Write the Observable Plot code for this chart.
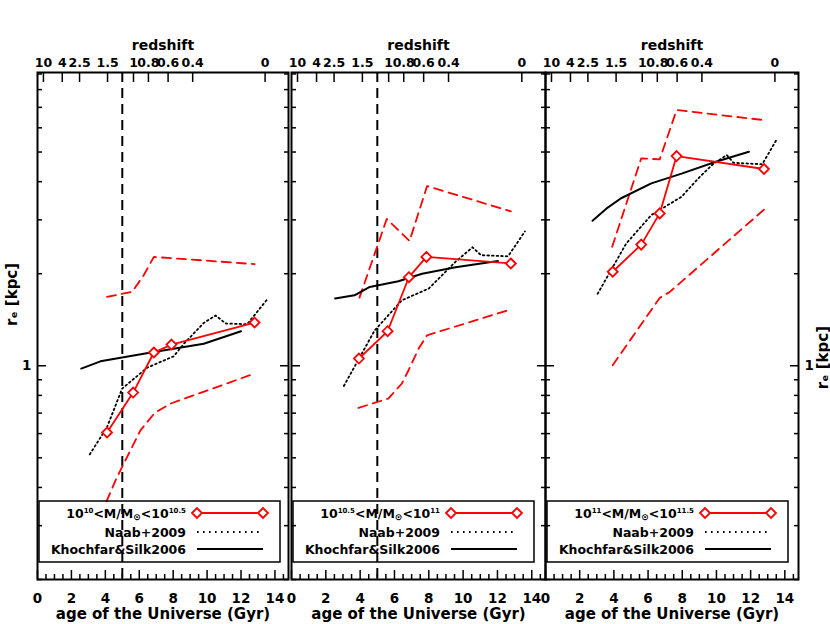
<!DOCTYPE html>
<html><head><meta charset="utf-8">
<script src="https://cdn.jsdelivr.net/npm/d3@7"></script>
<script src="https://cdn.jsdelivr.net/npm/@observablehq/plot@0.6"></script>
<style>
html,body{margin:0;padding:0;background:#fff;}
#fig{position:relative;width:830px;height:624px;overflow:hidden;background:#fff;}
#fig svg{position:absolute;top:0;}
</style></head>
<body><div id="fig"></div>
<script>
// ---------- shared axis data ----------
const zTickLabels = ["10","4","2.5","1.5","1","0.8","0.6","0.4","0"];
const zTickAges   = [0.35, 1.46, 2.48, 4.13, 5.66, 6.54, 7.70, 9.15, 13.42];
const ageMajorTicks = [0, 2, 4, 6, 8, 10, 12, 14];
const ageMinorTicks = [0.5, 1, 1.5, 2.5, 3, 3.5, 4.5, 5, 5.5, 6.5, 7, 7.5, 8.5, 9, 9.5, 10.5, 11, 11.5, 12.5, 13, 13.5, 14.5];
const reMajorTicks = [1];
const reMinorTicks = [0.2, 0.3, 0.4, 0.5, 0.6, 0.7, 0.8, 0.9, 2, 3, 4, 5, 6, 7, 8, 9];
const refLineAge = [5.0];

// ---------- legend text ----------
const massLowExp  = ["10", "10.5", "11"];
const massHighExp = ["10.5", "11", "11.5"];
const naabLabel = "Naab+2009";
const ksLabel = "Khochfar&Silk2006";

// ---------- panel 1 : 10^10 < M < 10^10.5 ----------
const p1MedianAge = [4.10, 5.64, 6.86, 7.90, 12.80];
const p1MedianRe  = [0.605, 0.817, 1.105, 1.173, 1.385];
const p1UpperAge  = [4.10, 5.58, 6.27, 6.86, 12.80];
const p1UpperRe   = [1.68, 1.744, 1.98, 2.27, 2.15];
const p1LowerAge  = [4.07, 4.60, 5.09, 6.07, 6.90, 7.84, 12.80];
const p1LowerRe   = [0.36, 0.422, 0.479, 0.615, 0.700, 0.752, 0.943];
const p1NaabAge   = [3.08, 4.10, 4.99, 6.47, 8.03, 8.63, 9.80, 10.50, 11.10, 12.36, 13.54];
const p1NaabRe    = [0.513, 0.63, 0.842, 0.986, 1.074, 1.18, 1.38, 1.46, 1.375, 1.367, 1.647];
const p1KSAge     = [2.58, 3.71, 4.99, 6.86, 9.80, 12.00];
const p1KSRe      = [0.979, 1.034, 1.064, 1.11, 1.18, 1.297];

// ---------- panel 2 : 10^10.5 < M < 10^11 ----------
const p2MedianAge = [3.93, 5.60, 6.84, 7.86, 12.78];
const p2MedianRe  = [1.056, 1.297, 1.948, 2.27, 2.16];
const p2UpperAge  = [3.96, 5.55, 6.88, 7.90, 12.78];
const p2UpperRe   = [1.67, 3.02, 2.56, 3.87, 3.20];
const p2LowerAge  = [3.90, 5.64, 6.43, 6.82, 7.41, 7.90, 12.80];
const p2LowerRe   = [0.728, 0.781, 0.875, 0.967, 1.138, 1.258, 1.53];
const p2NaabAge   = [3.05, 3.87, 4.85, 6.43, 8.00, 9.56, 10.55, 11.04, 12.62, 13.60];
const p2NaabRe    = [0.859, 1.04, 1.306, 1.637, 1.789, 2.19, 2.44, 2.30, 2.28, 2.75];
const p2KSAge     = [2.54, 3.67, 4.56, 6.23, 7.61, 9.56, 12.03];
const p2KSRe      = [1.66, 1.70, 1.81, 1.89, 2.00, 2.10, 2.20];

// ---------- panel 3 : 10^11 < M < 10^11.5 ----------
const p3MedianAge = [3.93, 5.60, 6.68, 7.67, 12.78];
const p3MedianRe  = [2.03, 2.49, 3.15, 4.85, 4.40];
const p3UpperAge  = [3.90, 5.60, 6.68, 7.67, 12.78];
const p3UpperRe   = [2.45, 4.77, 4.73, 6.86, 6.36];
const p3LowerAge  = [3.93, 6.68, 7.27, 12.78];
const p3LowerRe   = [1.004, 1.667, 1.744, 3.24];
const p3NaabAge   = [3.05, 3.93, 4.72, 6.19, 7.96, 8.94, 9.73, 10.60, 11.00, 12.68, 13.56];
const p3NaabRe    = [1.72, 2.10, 2.51, 3.11, 3.57, 4.10, 4.53, 4.89, 4.61, 4.56, 5.54];
const p3KSAge     = [2.75, 3.64, 4.42, 6.19, 7.96, 9.92, 11.90];
const p3KSRe      = [2.98, 3.29, 3.53, 3.95, 4.25, 4.64, 5.01];

// ---------- layout ----------
const FONT = "'DejaVu Sans', sans-serif";
const RED = "#ff0000";
const H = 624, MT = 72, MB = 45;
const layout = [
  {left: 0,   width: 290, ml: 37, mr: 2},
  {left: 289, width: 258, ml: 2,  mr: 2},
  {left: 543, width: 287, ml: 2,  mr: 32}
];
const rows = (a, r) => a.map((age, j) => ({age, re: r[j]}));
const panels = [
  {median: rows(p1MedianAge, p1MedianRe), upper: rows(p1UpperAge, p1UpperRe), lower: rows(p1LowerAge, p1LowerRe),
   naab: rows(p1NaabAge, p1NaabRe), ks: rows(p1KSAge, p1KSRe), ref: true, leftLabel: true, rightLabel: false},
  {median: rows(p2MedianAge, p2MedianRe), upper: rows(p2UpperAge, p2UpperRe), lower: rows(p2LowerAge, p2LowerRe),
   naab: rows(p2NaabAge, p2NaabRe), ks: rows(p2KSAge, p2KSRe), ref: true, leftLabel: false, rightLabel: false},
  {median: rows(p3MedianAge, p3MedianRe), upper: rows(p3UpperAge, p3UpperRe), lower: rows(p3LowerAge, p3LowerRe),
   naab: rows(p3NaabAge, p3NaabRe), ks: rows(p3KSAge, p3KSRe), ref: false, leftLabel: false, rightLabel: true}
];

function legendMark(k, x0) {
  return () => {
    const g = d3.create("svg:g")
      .attr("font-family", FONT).attr("font-weight", "bold").attr("font-size", 12.5).attr("fill", "black");
    const left = x0 + 2, right = x0 + 243, top = 501, bottom = 562;
    g.append("rect").attr("x", left).attr("y", top).attr("width", right - left).attr("height", bottom - top)
      .attr("fill", "none").attr("stroke", "black").attr("stroke-width", 1.5);
    const tx = x0 + 149, s1 = x0 + 160, s2 = x0 + 226;
    const ry = [513, 532, 549];
    // row 1: mass bin
    const t = g.append("text").attr("x", tx).attr("y", ry[0] + 4.5).attr("text-anchor", "end");
    t.append("tspan").text("10");
    t.append("tspan").attr("font-size", 7).attr("dy", -5).text(massLowExp[k]);
    t.append("tspan").attr("dy", 5).text("<M/M");
    t.append("tspan").attr("font-size", 9).attr("dy", 2).text("\u2299");
    t.append("tspan").attr("dy", -2).text("<10");
    t.append("tspan").attr("font-size", 7).attr("dy", -5).text(massHighExp[k]);
    g.append("line").attr("x1", s1).attr("x2", s2).attr("y1", ry[0]).attr("y2", ry[0])
      .attr("stroke", RED).attr("stroke-width", 1.8);
    for (const sx of [s1, s2]) {
      g.append("path").attr("d", `M${sx - 5},${ry[0]}L${sx},${ry[0] - 5}L${sx + 5},${ry[0]}L${sx},${ry[0] + 5}Z`)
        .attr("fill", "white").attr("stroke", RED).attr("stroke-width", 1.8);
    }
    // row 2: Naab
    g.append("text").attr("x", tx).attr("y", ry[1] + 4.5).attr("text-anchor", "end").text(naabLabel);
    g.append("line").attr("x1", s1).attr("x2", s2).attr("y1", ry[1]).attr("y2", ry[1])
      .attr("stroke", "black").attr("stroke-width", 1.8).attr("stroke-dasharray", "1.6,4.4");
    // row 3: Khochfar & Silk
    g.append("text").attr("x", tx).attr("y", ry[2] + 4.5).attr("text-anchor", "end").text(ksLabel);
    g.append("line").attr("x1", s1).attr("x2", s2).attr("y1", ry[2]).attr("y2", ry[2])
      .attr("stroke", "black").attr("stroke-width", 2);
    return g.node();
  };
}

const fig = document.getElementById("fig");
panels.forEach((P, k) => {
  const L = layout[k];
  const x0 = L.ml; // panel's left edge in this SVG's own coordinates
  const marks = [];
  if (P.ref) marks.push(Plot.ruleX(refLineAge, {stroke: "black", strokeWidth: 2, strokeDasharray: "10,6"}));
  marks.push(
    Plot.line(P.upper, {x: "age", y: "re", stroke: RED, strokeWidth: 1.8, strokeDasharray: "9,6"}),
    Plot.line(P.lower, {x: "age", y: "re", stroke: RED, strokeWidth: 1.8, strokeDasharray: "9,6"}),
    Plot.line(P.naab, {x: "age", y: "re", stroke: "black", strokeWidth: 1.8, strokeDasharray: "1.6,3"}),
    Plot.line(P.ks, {x: "age", y: "re", stroke: "black", strokeWidth: 2}),
    Plot.line(P.median, {x: "age", y: "re", stroke: RED, strokeWidth: 1.8}),
    Plot.dot(P.median, {x: "age", y: "re", symbol: "diamond2", r: 4.5, stroke: RED, fill: "white", strokeWidth: 1.8}),
    Plot.frame({strokeWidth: 2}),
    // bottom axis
    Plot.axisX(ageMinorTicks, {anchor: "bottom", tickSize: -5, strokeWidth: 1.5, tickFormat: () => "", label: null}),
    Plot.axisX(ageMajorTicks, {anchor: "bottom", tickSize: -9, strokeWidth: 1.5, tickFormat: () => "", label: null}),
    Plot.axisX(ageMajorTicks, {anchor: "bottom", tickSize: 0, tickPadding: 14, fontSize: 13.5, label: null}),
    // top redshift axis
    Plot.axisX(zTickAges, {anchor: "top", tickSize: -9, strokeWidth: 1.5, tickFormat: () => "", label: null}),
    Plot.axisX(zTickAges, {anchor: "top", tickSize: 0, tickPadding: 6, fontSize: 12.5,
      tickFormat: d => zTickLabels[zTickAges.indexOf(d)], label: null}),
    // left / right y ticks
    Plot.axisY(reMinorTicks, {anchor: "left", tickSize: -5, strokeWidth: 1.5, tickFormat: () => "", label: null}),
    Plot.axisY(reMajorTicks, {anchor: "left", tickSize: -9, strokeWidth: 1.5, tickFormat: () => "", label: null}),
    Plot.axisY(reMinorTicks, {anchor: "right", tickSize: -5, strokeWidth: 1.5, tickFormat: () => "", label: null}),
    Plot.axisY(reMajorTicks, {anchor: "right", tickSize: -9, strokeWidth: 1.5, tickFormat: () => "", label: null}),
    // titles
    Plot.text(["redshift"], {frameAnchor: "top", dy: -27, fontSize: 14, fontWeight: "bold", lineAnchor: "middle"}),
    Plot.text(["age of the Universe (Gyr)"], {frameAnchor: "bottom", dy: 35, fontSize: 15, fontWeight: "bold", lineAnchor: "middle"}),
    legendMark(k, x0)
  );
  if (P.leftLabel) {
    marks.push(
      Plot.axisY(reMajorTicks, {anchor: "left", tickSize: 0, tickPadding: 6, fontSize: 13.5, label: null}),
      Plot.text(["r\u2091 [kpc]"], {frameAnchor: "left", dx: -25, rotate: -90, fontSize: 15, fontWeight: "bold", lineAnchor: "middle"})
    );
  }
  if (P.rightLabel) {
    marks.push(
      Plot.axisY(reMajorTicks, {anchor: "right", tickSize: 0, tickPadding: 6, fontSize: 13.5, label: null}),
      Plot.text(["r\u2091 [kpc]"], {frameAnchor: "right", dx: 25, rotate: -90, fontSize: 15, fontWeight: "bold", lineAnchor: "middle"})
    );
  }
  const svg = Plot.plot({
    width: L.width, height: H,
    marginLeft: L.ml, marginRight: L.mr, marginTop: MT, marginBottom: MB,
    x: {domain: [0, 14.8], axis: null, label: null},
    y: {type: "log", domain: [0.2, 9.1], axis: null, label: null},
    style: {fontFamily: FONT, fontWeight: "bold", color: "black", background: "transparent", overflow: "visible"},
    marks
  });
  svg.style.left = L.left + "px";
  fig.appendChild(svg);
});
</script>
</body></html>
